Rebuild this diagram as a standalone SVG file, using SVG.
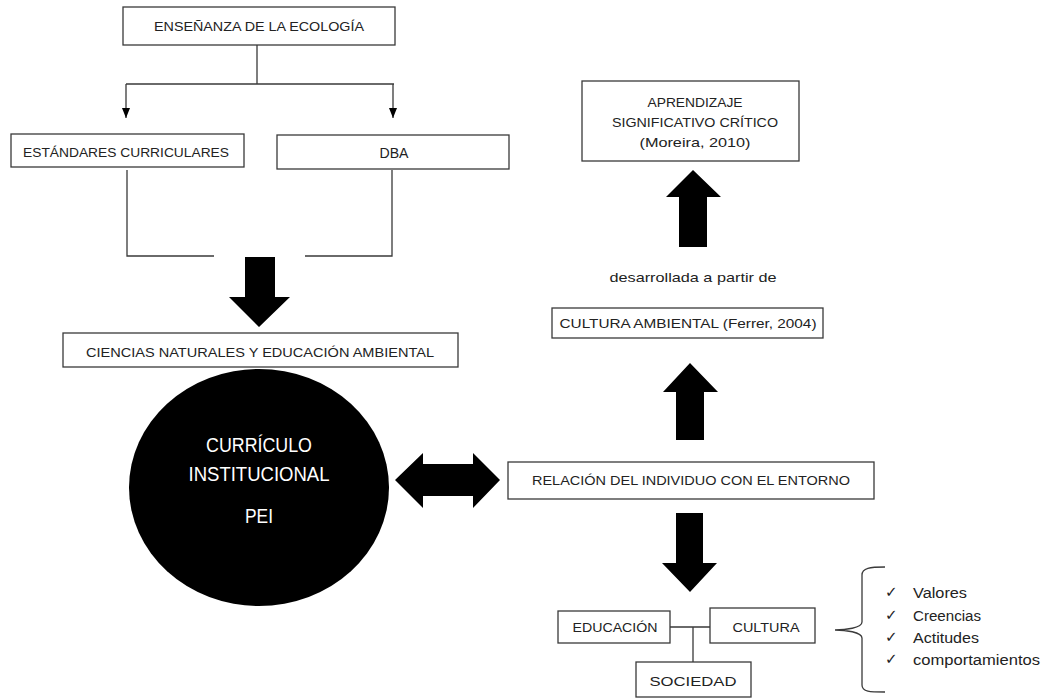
<svg xmlns="http://www.w3.org/2000/svg" width="1047" height="698" viewBox="0 0 1047 698">
<style>
.box{fill:#fff;stroke:#3a3a3a;stroke-width:1.3}
.t{font-family:"Liberation Sans",Arial,sans-serif;font-size:13.5px;fill:#222;text-anchor:middle}
.ln{fill:none;stroke:#3a3a3a;stroke-width:1.3}
.big{fill:#000}
.w{font-family:"Liberation Sans",Arial,sans-serif;font-size:19.5px;fill:#fff;text-anchor:middle}
.li{font-family:"Liberation Sans",Arial,sans-serif;font-size:14px;fill:#222}
.ck{font-family:"DejaVu Sans",sans-serif;font-size:15px;fill:#222}
</style>
<defs>
<marker id="ah" markerWidth="10" markerHeight="8" refX="10" refY="4" orient="auto" markerUnits="userSpaceOnUse" viewBox="0 0 10 8">
<path d="M0,0 L10,4 L0,8 Z" fill="#000"/>
</marker>
</defs>
<rect width="1047" height="698" fill="#fff"/>
<g id="connectors">
<path class="ln" d="M257,45 V84 M126,84 H394"/>
<path class="ln" d="M126,84 V118" marker-end="url(#ah)"/>
<path class="ln" d="M393,84 V118" marker-end="url(#ah)"/>
<path class="ln" d="M127,170 V256 H214 M392,170 V256 H305"/>
<path class="big" d="M245,257 H275 V297 H290 L259,327 L229,297 H245 Z"/>
<path class="big" d="M395,480 L423,453 V464 H473 V453 L500,480 L473,508 V496 H423 V508 Z"/>
<path class="big" d="M693,170 L721,197 H707 V247 H679 V197 H666 Z"/>
<path class="big" d="M690,363 L718,392 H704 V440 H676 V392 H663 Z"/>
<path class="big" d="M676,513 H703 V563 H717 L690,592 L662,563 H676 Z"/>
<path class="ln" d="M670,627 H710 M693,627 V662"/>
<path class="ln" d="M885,567 C870,567 862,568 862,575 V622 C862,628 845,630 835,630 C845,630 862,632 862,638 V685 C862,692 870,692 885,692"/>
</g>
<g id="n1"><rect class="box" x="123" y="7" width="272" height="38"/><text class="t" x="259" y="31" textLength="210" lengthAdjust="spacingAndGlyphs">ENSEÑANZA DE LA ECOLOGÍA</text></g>
<g id="n2"><rect class="box" x="11" y="134" width="233" height="33"/><text class="t" x="126" y="157" textLength="206" lengthAdjust="spacingAndGlyphs">ESTÁNDARES CURRICULARES</text></g>
<g id="n3"><rect class="box" x="277" y="135" width="232" height="34"/><text class="t" x="394" y="158" style="font-size:14px" textLength="29" lengthAdjust="spacingAndGlyphs">DBA</text></g>
<g id="n4"><rect class="box" x="63" y="333" width="395" height="34"/><text class="t" x="260" y="357" textLength="348" lengthAdjust="spacingAndGlyphs">CIENCIAS NATURALES Y EDUCACIÓN AMBIENTAL</text></g>
<g id="n5"><ellipse cx="259" cy="487.5" rx="130" ry="118.5" fill="#000"/>
<text class="w" x="259" y="452" textLength="106" lengthAdjust="spacingAndGlyphs">CURRÍCULO</text>
<text class="w" x="259" y="481" textLength="141" lengthAdjust="spacingAndGlyphs">INSTITUCIONAL</text>
<text class="w" x="259" y="523" textLength="28" lengthAdjust="spacingAndGlyphs">PEI</text></g>
<g id="n6"><rect class="box" x="508" y="462" width="366" height="37"/><text class="t" x="691" y="485" textLength="318" lengthAdjust="spacingAndGlyphs">RELACIÓN DEL INDIVIDUO CON EL ENTORNO</text></g>
<g id="n7"><rect class="box" x="582" y="81" width="217" height="80"/>
<text class="t" x="695" y="107" textLength="95" lengthAdjust="spacingAndGlyphs">APRENDIZAJE</text>
<text class="t" x="695" y="127" textLength="166" lengthAdjust="spacingAndGlyphs">SIGNIFICATIVO CRÍTICO</text>
<text class="t" x="695" y="147" textLength="111" lengthAdjust="spacingAndGlyphs">(Moreira, 2010)</text></g>
<g id="n8"><text class="t" x="693" y="282" textLength="167" lengthAdjust="spacingAndGlyphs">desarrollada a partir de</text></g>
<g id="n9"><rect class="box" x="552" y="308" width="271" height="30"/><text class="t" x="688" y="328" textLength="257" lengthAdjust="spacingAndGlyphs">CULTURA AMBIENTAL (Ferrer, 2004)</text></g>
<g id="n10"><rect class="box" x="558" y="611" width="112" height="32"/><text class="t" x="615" y="632" textLength="85" lengthAdjust="spacingAndGlyphs">EDUCACIÓN</text></g>
<g id="n11"><rect class="box" x="710" y="608" width="105" height="35"/><text class="t" x="766" y="632" textLength="67" lengthAdjust="spacingAndGlyphs">CULTURA</text></g>
<g id="n12"><rect class="box" x="636" y="662" width="115" height="35"/><text class="t" x="693" y="686" textLength="87" lengthAdjust="spacingAndGlyphs">SOCIEDAD</text></g>
<g id="n13">
<text class="ck" x="885" y="597">✓</text><text class="li" x="913" y="598" textLength="54" lengthAdjust="spacingAndGlyphs">Valores</text>
<text class="ck" x="885" y="620">✓</text><text class="li" x="913" y="621" textLength="68" lengthAdjust="spacingAndGlyphs">Creencias</text>
<text class="ck" x="885" y="642">✓</text><text class="li" x="913" y="643" textLength="66" lengthAdjust="spacingAndGlyphs">Actitudes</text>
<text class="ck" x="885" y="664">✓</text><text class="li" x="913" y="665" textLength="127" lengthAdjust="spacingAndGlyphs">comportamientos</text>
</g>
</svg>
